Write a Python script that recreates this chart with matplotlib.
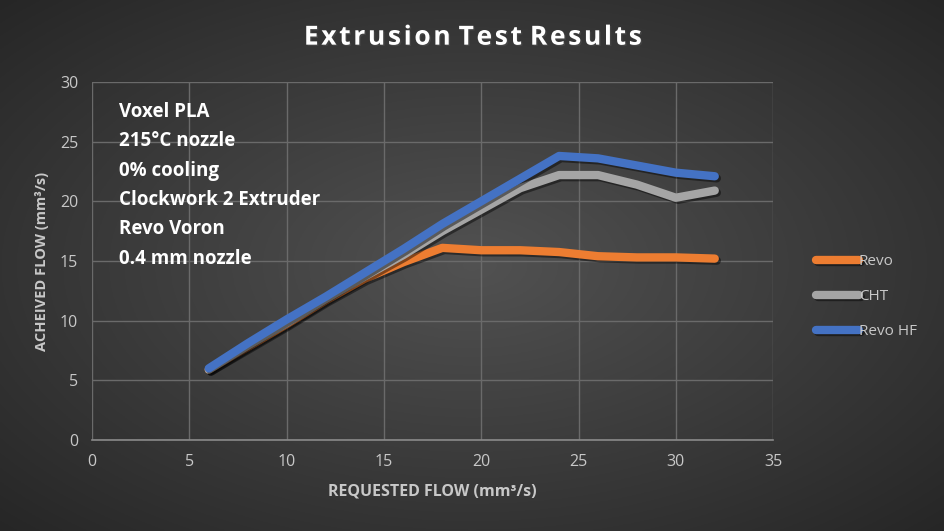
import numpy as np
import matplotlib
matplotlib.use("Agg")
import matplotlib.pyplot as plt
import matplotlib.patheffects as pe

# requested flow (mm^3/s)
requested = [6, 8, 10, 12, 14, 16, 18, 20, 22, 24, 26, 28, 30, 32]
# achieved flow per hotend
revo = [5.9, 7.8, 9.7, 11.7, 13.5, 14.9, 16.1, 15.9, 15.9, 15.75, 15.4, 15.3, 15.3, 15.2]
cht = [5.9, 7.9, 9.8, 11.8, 13.7, 15.5, 17.5, 19.3, 21.1, 22.2, 22.2, 21.4, 20.3, 20.9]
revo_hf = [6.0, 8.1, 10.1, 12.0, 14.0, 16.0, 18.1, 20.0, 21.9, 23.8, 23.6, 23.0, 22.4, 22.1]

series_names = ["Revo", "CHT", "Revo HF"]
series_colors = ["#ED7D31", "#A5A5A5", "#4472C4"]
notes = ["Voxel PLA", "215°C nozzle", "0% cooling", "Clockwork 2 Extruder",
         "Revo Voron", "0.4 mm nozzle"]

plt.rcParams["font.family"] = ["Open Sans", "DejaVu Sans"]

fig = plt.figure(figsize=(9.44, 5.31), dpi=100)

# radial gradient background
bg = fig.add_axes([0, 0, 1, 1], zorder=-10)
yy, xx = np.mgrid[-1:1:300j, -1:1:500j]
r = np.sqrt(xx ** 2 + yy ** 2) / np.sqrt(2)
shade = 0.32 - 0.17 * r
bg.imshow(np.dstack([shade, shade, shade]), aspect="auto", extent=[0, 1, 0, 1])
bg.axis("off")

ax = fig.add_axes([0.0975, 0.1714, 0.7215, 0.6742])
ax.set_facecolor("none")

shadow = [pe.SimpleLineShadow(offset=(1.5, -1.5), shadow_color="black", alpha=0.45),
          pe.Normal()]
lines = []
for vals, name, col in zip([revo, cht, revo_hf], series_names, series_colors):
    ln, = ax.plot(requested, vals, color=col, lw=6, solid_capstyle="round",
                  solid_joinstyle="round", label=name, path_effects=shadow)
    lines.append(ln)

ax.set_xlim(0, 35)
ax.set_ylim(0, 30)
ax.set_xticks(range(0, 36, 5))
ax.set_yticks(range(0, 31, 5))
ax.grid(True, color="#6a6a6a", lw=1)
ax.set_axisbelow(True)
for s in ["top", "right", "left"]:
    ax.spines[s].set_visible(False)
ax.spines["bottom"].set_color("#8a8a8a")
ax.spines["bottom"].set_linewidth(1.2)
ax.tick_params(length=0, colors="#c8c8c8", labelsize=11.5, pad=10)

ax.set_xlabel("REQUESTED FLOW (mm³/s)", color="#c8c8c8", fontsize=11.5,
              fontweight="bold", labelpad=10)
ax.set_ylabel("ACHEIVED FLOW (mm³/s)", color="#c8c8c8", fontsize=10.5,
              fontweight="bold", labelpad=8)

ax.text(0.04, 0.945, "\n".join(notes), transform=ax.transAxes, color="white",
        fontsize=13.5, fontweight="bold", va="top", ha="left", linespacing=1.63)

fig.text(0.5, 0.930, "E x t r u s i o n   T e s t   R e s u l t s".replace(" ", "\u200a"),
         ha="center", va="center", color="white", fontsize=19, fontweight="bold",
         path_effects=[pe.withSimplePatchShadow(offset=(1, -1), alpha=0.6)])

leg = fig.legend(handles=lines, loc="center left", bbox_to_anchor=(0.85, 0.441),
                 frameon=False, fontsize=11, labelcolor="#c8c8c8",
                 handlelength=2.8, handletextpad=0.0, labelspacing=1.3)

fig.savefig("out.png", dpi=100)
